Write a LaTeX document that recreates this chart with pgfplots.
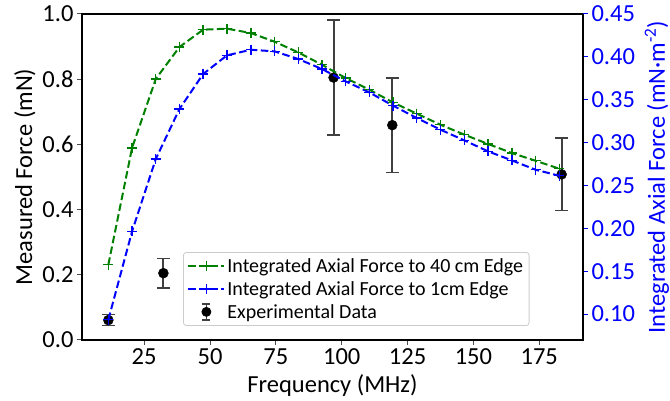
\documentclass[border=0pt]{standalone}
\usepackage{pgfplots}
\pgfplotsset{compat=1.18}
\usepackage{fontspec}
\setmainfont{Carlito}

\definecolor{mplgreen}{RGB}{0,128,0}
\definecolor{mplblue}{RGB}{0,0,255}
\definecolor{errgrey}{RGB}{64,64,64}

\pgfplotsset{
  common/.style={
    width=501pt, height=326pt, scale only axis,
    xmin=1.4, xmax=191.6,
    tick align=outside,
    major tick length=5pt,
    /pgf/number format/assume math mode=true,
    tick label style={font=\fontsize{24.5}{28}\selectfont},
    label style={font=\fontsize{24.5}{28}\selectfont},
  },
}

\begin{document}
\begin{tikzpicture}
% left axis: measured force with error bars
\begin{axis}[
    common,
    name=ax,
    ymin=0, ymax=1,
    xtick={25,50,...,175},
    ytick={0,0.2,...,1.0},
    xtick pos=bottom, ytick pos=left,
    yticklabel style={/pgf/number format/.cd, fixed, fixed zerofill, precision=1},
    axis line style={line width=1.2pt},
    tick style={line width=1pt, black!70},
    xlabel={Frequency (MHz)},
    xlabel style={yshift=-3pt},
    ylabel={Measured Force (mN)},
]
\addplot[only marks, mark=*, mark size=5pt, black,
    error bars/.cd, y dir=both, y explicit,
    error bar style={line width=2pt, errgrey},
    error mark options={rotate=90, mark size=6.3pt, line width=1.6pt, errgrey}]
  coordinates {
    (11.4,0.061) +- (0,0.017)
    (32.3,0.205) +- (0,0.045)
    (96.9,0.805) +- (0,0.177)
    (119.2,0.659) +- (0,0.145)
    (183.5,0.508) +- (0,0.111)
  };
\end{axis}

% right axis: integrated axial force
\begin{axis}[
    common,
    ymin=0.0697, ymax=0.45,
    axis x line=none,
    axis y line*=right,
    ytick={0.10,0.15,...,0.45},
    yticklabel style={mplblue, /pgf/number format/.cd, fixed, fixed zerofill, precision=2},
    y axis line style={line width=1.2pt, black},
    tick style={line width=1pt, mplblue},
    ylabel={Integrated Axial Force (mN·m\textsuperscript{-2})},
    ylabel style={mplblue, yshift=-3pt},
    legend style={
      font=\fontsize{20}{24}\selectfont,
      at={(0.2016,0.043)}, anchor=south west,
      draw=black!20, rounded corners=3pt, line width=0.8pt,
      inner sep=4pt, row sep=3.5pt,
      cells={anchor=west},
    },
    legend image code/.code={\draw[mark repeat=2, mark phase=2, #1] plot coordinates {(0pt,0pt) (18pt,0pt) (36pt,0pt)};},
]
\addplot[mplgreen, line width=2pt, dash pattern=on 7.5pt off 3.5pt,
    mark=+, mark size=5pt, mark options={solid, line width=1.4pt}]
  coordinates {
    (11.4,0.1575) (20.4,0.2937) (29.4,0.3742) (38.4,0.4115) (47.4,0.4317)
    (56.4,0.4329) (65.5,0.4278) (74.5,0.4177) (83.5,0.4052) (92.5,0.3908)
    (101.5,0.3753) (110.5,0.3617) (119.5,0.3468) (128.5,0.3337) (137.5,0.3208)
    (146.6,0.3092) (155.6,0.2983) (164.6,0.2878) (173.6,0.2788) (182.6,0.2695)
  };
\addlegendentry{Integrated Axial Force to 40 cm Edge}
\addplot[mplblue, line width=2pt, dash pattern=on 7.5pt off 3.5pt,
    mark=+, mark size=5pt, mark options={solid, line width=1.4pt}]
  coordinates {
    (11.4,0.0933) (20.4,0.1963) (29.4,0.2808) (38.4,0.3392) (47.4,0.3800)
    (56.4,0.4017) (65.5,0.4083) (74.5,0.4064) (83.5,0.3975) (92.5,0.3858)
    (101.5,0.3714) (110.5,0.3585) (119.5,0.3430) (128.5,0.3287) (137.5,0.3150)
    (146.6,0.3025) (155.6,0.2897) (164.6,0.2792) (173.6,0.2683) (182.6,0.2613)
  };
\addlegendentry{Integrated Axial Force to 1cm Edge}
\addlegendimage{legend image code/.code={
    \draw[errgrey, line width=1.5pt] (18pt,-8pt) -- (18pt,8pt);
    \draw[errgrey, line width=1.4pt] (14pt,-8pt) -- (22pt,-8pt);
    \draw[errgrey, line width=1.4pt] (14pt,8pt) -- (22pt,8pt);
    \fill[black] (18pt,0pt) circle (4.5pt);}}
\addlegendentry{Experimental Data}
\end{axis}

\pgfresetboundingbox
\path[use as bounding box] ([shift={(-82pt,-61pt)}]ax.south west) rectangle ([shift={(87pt,14pt)}]ax.north east);
\end{tikzpicture}
\end{document}
